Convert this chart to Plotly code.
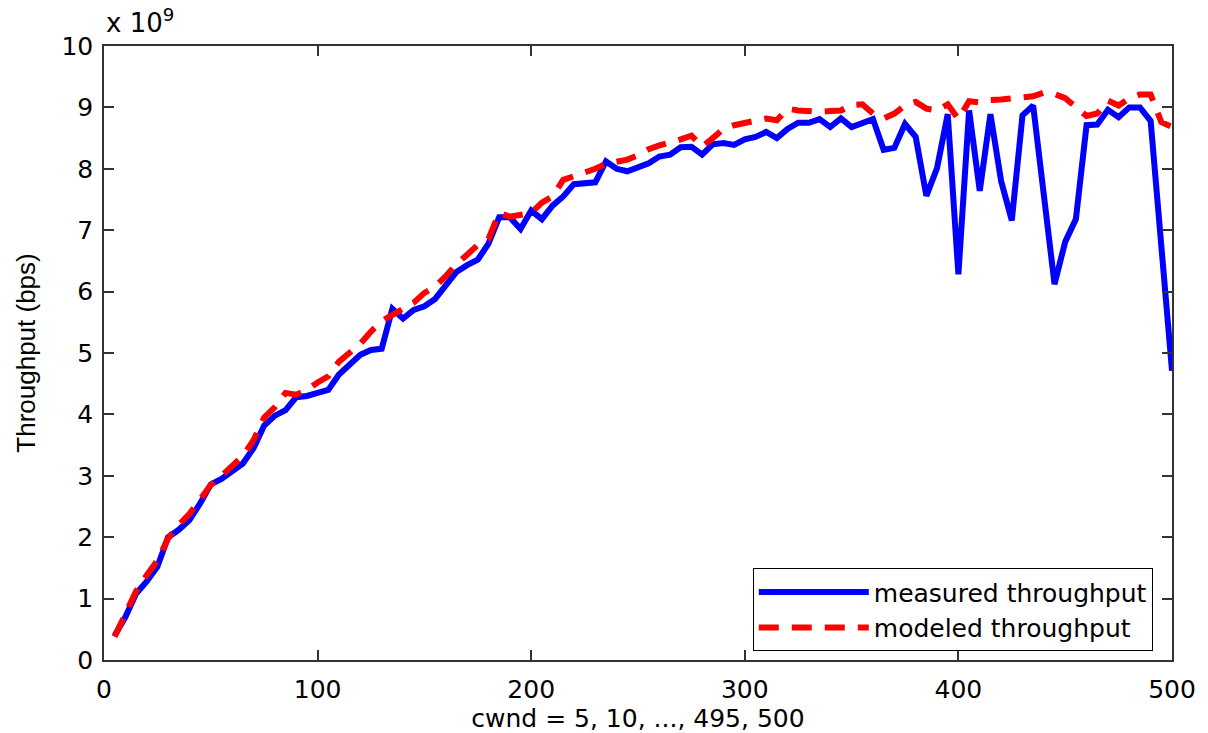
import plotly.graph_objects as go

cwnd = list(range(5, 505, 5))

measured = [
    0.40, 0.70, 1.08, 1.28, 1.52, 2.00, 2.12, 2.28, 2.55, 2.86,
    2.95, 3.07, 3.20, 3.45, 3.82, 3.98, 4.07, 4.28, 4.30, 4.35,
    4.40, 4.65, 4.82, 4.97, 5.05, 5.07, 5.72, 5.56, 5.70, 5.76,
    5.88, 6.12, 6.32, 6.43, 6.52, 6.78, 7.21, 7.21, 7.02, 7.32,
    7.18, 7.40, 7.55, 7.75, 7.77, 7.78, 8.12, 8.00, 7.96, 8.02,
    8.09, 8.20, 8.23, 8.35, 8.36, 8.23, 8.40, 8.42, 8.39, 8.48,
    8.52, 8.60, 8.50, 8.65, 8.75, 8.75, 8.81, 8.68, 8.82, 8.68,
    8.75, 8.81, 8.31, 8.34, 8.73, 8.52, 7.56, 8.01, 8.89, 6.28,
    8.95, 7.64, 8.89, 7.80, 7.16, 8.87, 9.03, 7.58, 6.12, 6.81,
    7.18, 8.71, 8.72, 8.96, 8.84, 9.00, 9.00, 8.78, 6.75, 4.71,
]

modeled = [
    0.38, 0.75, 1.12, 1.38, 1.62, 1.98, 2.20, 2.38, 2.62, 2.85,
    3.00, 3.15, 3.32, 3.58, 3.95, 4.12, 4.35, 4.32, 4.40, 4.52,
    4.62, 4.86, 5.00, 5.15, 5.35, 5.52, 5.62, 5.72, 5.82, 5.98,
    6.08, 6.25, 6.45, 6.60, 6.76, 6.86, 7.28, 7.22, 7.24, 7.28,
    7.45, 7.55, 7.82, 7.88, 7.92, 8.00, 8.08, 8.12, 8.15, 8.22,
    8.32, 8.38, 8.42, 8.48, 8.54, 8.36, 8.50, 8.65, 8.71, 8.74,
    8.77, 8.82, 8.79, 8.98, 8.95, 8.93, 8.93, 8.94, 8.95, 9.04,
    9.05, 8.90, 8.82, 8.90, 9.03, 9.09, 8.98, 8.95, 9.05, 8.81,
    9.10, 9.08, 9.12, 9.13, 9.14, 9.15, 9.18, 9.24, 9.22, 9.15,
    9.00, 8.86, 8.90, 9.11, 9.03, 9.15, 9.21, 9.21, 8.76, 8.68,
]

x_ticks = [0, 100, 200, 300, 400, 500]
y_ticks = list(range(0, 11))

fig = go.Figure()
fig.add_trace(go.Scatter(
    x=cwnd, y=measured, mode="lines", name="measured throughput",
    line=dict(color="#0000FF", width=6),
))
fig.add_trace(go.Scatter(
    x=cwnd, y=modeled, mode="lines", name="modeled throughput",
    line=dict(color="#FF0000", width=6, dash="20px,13px"),
))

axis_common = dict(
    showline=True, linecolor="#333333", linewidth=1.5, mirror="ticks",
    ticks="inside", ticklen=10, tickcolor="#333333", tickwidth=1.5,
    showgrid=False, zeroline=False,
    tickfont=dict(family="DejaVu Sans", size=25, color="black"),
)

fig.update_layout(
    width=1208, height=733,
    margin=dict(l=104, r=31, t=46, b=65),
    paper_bgcolor="white", plot_bgcolor="white",
    xaxis=dict(
        range=[0, 500], tickvals=x_ticks, ticklabelstandoff=6,
        title=dict(text="cwnd = 5, 10, ..., 495, 500",
                   font=dict(family="DejaVu Sans", size=25, color="black"),
                   standoff=0),
        **axis_common,
    ),
    yaxis=dict(
        range=[0, 10], tickvals=y_ticks, ticklabelstandoff=4,
        title=dict(text="Throughput (bps)",
                   font=dict(family="Liberation Sans", size=26, color="black"),
                   standoff=18),
        **axis_common,
    ),
    legend=dict(
        x=0.982, y=0.082, xanchor="right", yanchor="middle",
        bgcolor="white", bordercolor="black", borderwidth=1,
        font=dict(family="DejaVu Sans", size=25, color="black"),
        itemwidth=110, tracegroupgap=0,
    ),
    showlegend=True,
    annotations=[dict(
        text="x 10<sup>9</sup>", xref="paper", yref="paper", x=0, y=1,
        xanchor="left", yanchor="bottom", showarrow=False, yshift=6,
        font=dict(family="DejaVu Sans", size=26, color="black"),
    )],
)

fig.write_html("out.html")
